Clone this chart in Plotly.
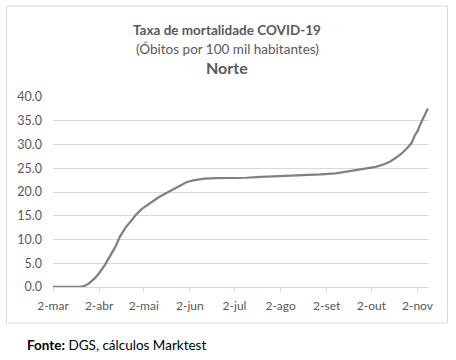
import plotly.graph_objects as go

# ---- data ----
dates = ["2020-03-02", "2020-03-09", "2020-03-16", "2020-03-20", "2020-03-23", "2020-03-26",
         "2020-03-30", "2020-04-02", "2020-04-06", "2020-04-10", "2020-04-13", "2020-04-16",
         "2020-04-20", "2020-04-24", "2020-04-27", "2020-05-01", "2020-05-04", "2020-05-08",
         "2020-05-12", "2020-05-16", "2020-05-21", "2020-05-26", "2020-05-31", "2020-06-05",
         "2020-06-12", "2020-06-20", "2020-06-30", "2020-07-10", "2020-07-20", "2020-07-30",
         "2020-08-09", "2020-08-19", "2020-08-29", "2020-09-08", "2020-09-18", "2020-09-25",
         "2020-09-30", "2020-10-05", "2020-10-10", "2020-10-14", "2020-10-18", "2020-10-22",
         "2020-10-26", "2020-10-29", "2020-10-31", "2020-11-02", "2020-11-04", "2020-11-06",
         "2020-11-08", "2020-11-09"]
rate = [0.0, 0.0, 0.0, 0.05, 0.2, 0.7,
        1.8, 2.9, 4.7, 6.8, 8.5, 10.6,
        12.6, 14.1, 15.3, 16.5, 17.2, 18.1,
        18.9, 19.6, 20.4, 21.3, 22.1, 22.5,
        22.8, 22.9, 22.9, 23.0, 23.2, 23.3,
        23.4, 23.5, 23.7, 23.9, 24.4, 24.7,
        24.9, 25.3, 25.8, 26.3, 27.1, 28.0,
        29.2, 30.3, 31.8, 32.8, 34.3, 35.5,
        36.8, 37.6]

tick_dates = ["2020-03-02", "2020-04-02", "2020-05-02", "2020-06-02", "2020-07-02",
              "2020-08-02", "2020-09-02", "2020-10-02", "2020-11-02"]
tick_labels = ["2-mar", "2-abr", "2-mai", "2-jun", "2-jul", "2-ago", "2-set", "2-out", "2-nov"]
y_ticks = [0, 5, 10, 15, 20, 25, 30, 35, 40]

title_l1 = "Taxa de mortalidade COVID-19"
title_l2 = "(Óbitos por 100 mil habitantes)"
title_l3 = "Norte"
source = "<b>Fonte:</b> DGS, cálculos Marktest"

# ---- layout geometry ----
W, H = 456, 360
ML, MR, MT, MB = 53, 27, 97, 73
PW, PH = W - ML - MR, H - MT - MB


def px(x):
    return (x - ML) / PW


def py(y):
    return (H - MB - y) / PH


FONT = "Lato"
GREY_TXT = "#595959"
GRID = "#d9d9d9"

fig = go.Figure()
fig.add_trace(go.Scatter(
    x=dates, y=rate, mode="lines",
    line=dict(color="#808080", width=2.25),
    hoverinfo="skip", showlegend=False,
))

fig.update_layout(
    width=W, height=H,
    margin=dict(l=ML, r=MR, t=MT, b=MB, pad=0),
    paper_bgcolor="white", plot_bgcolor="white",
    font=dict(family=FONT, color=GREY_TXT, size=12),
    showlegend=False,
    xaxis=dict(
        type="date",
        range=["2020-03-02", "2020-11-09 18:00"],
        tickmode="array", tickvals=tick_dates, ticktext=tick_labels,
        ticks="outside", ticklen=4, tickcolor=GRID, tickwidth=1,
        showgrid=False, zeroline=False,
        showline=True, linecolor=GRID, linewidth=1,
        tickfont=dict(family=FONT, size=12, color=GREY_TXT),
        ticklabelstandoff=4,
    ),
    yaxis=dict(
        range=[0, 40],
        tickmode="array", tickvals=y_ticks,
        tickformat=".1f",
        showgrid=True, gridcolor=GRID, gridwidth=1,
        zeroline=False, showline=False, ticks="",
        tickfont=dict(family=FONT, size=12.5, color=GREY_TXT),
        ticklabelstandoff=10,
    ),
)

# outer chart frame
fig.add_shape(type="rect", xref="paper", yref="paper",
              x0=px(6.5), x1=px(447.5), y0=py(323), y1=py(6),
              line=dict(color=GRID, width=1), fillcolor="rgba(0,0,0,0)", layer="below")

cx = px(227)
fig.add_annotation(text="<b>" + title_l1 + "</b>", xref="paper", yref="paper",
                   x=cx, y=py(30.5), xanchor="center", yanchor="middle", showarrow=False,
                   font=dict(family=FONT, size=13.5, color=GREY_TXT))
fig.add_annotation(text=title_l2, xref="paper", yref="paper",
                   x=cx, y=py(49), xanchor="center", yanchor="middle", showarrow=False,
                   font=dict(family=FONT, size=13.5, color=GREY_TXT))
fig.add_annotation(text="<b>" + title_l3 + "</b>", xref="paper", yref="paper",
                   x=cx, y=py(67.5), xanchor="center", yanchor="middle", showarrow=False,
                   font=dict(family=FONT, size=16, color=GREY_TXT))
fig.add_annotation(text=source, xref="paper", yref="paper",
                   x=px(25), y=py(345), xanchor="left", yanchor="middle", showarrow=False,
                   font=dict(family=FONT, size=13.5, color="black"))

fig.write_html("out.html",
               config={"displayModeBar": False, "staticPlot": True},
               post_script="document.body.style.margin='0';document.body.style.overflow='hidden';")
